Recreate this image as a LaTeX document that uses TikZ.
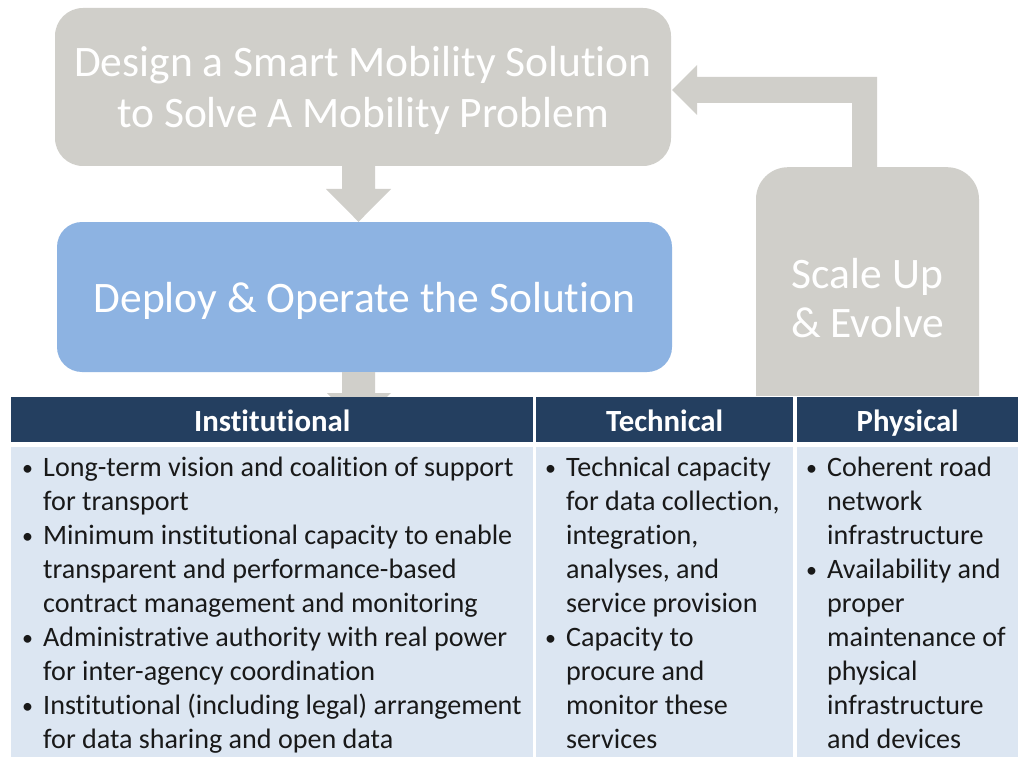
\documentclass[tikz,border=0pt]{standalone}
\usepackage{fontspec}
\setmainfont{Carlito}[RawFeature={-liga;-clig;-dlig;-calt;-rlig}]
\usetikzlibrary{calc}
\definecolor{boxgray}{RGB}{208,207,202}
\definecolor{boxblue}{RGB}{141,179,226}
\definecolor{navy}{RGB}{36,63,96}
\definecolor{cellblue}{RGB}{220,230,242}
\definecolor{bodytext}{RGB}{25,25,25}
\newcommand{\bul}{\llap{\makebox[21pt][l]{\fontsize{22}{22}\selectfont\raisebox{1pt}{•}}}}
\begin{document}
\begin{tikzpicture}[x=1pt,y=-1pt,
  stage/.style={inner sep=0pt, text=white, align=center, font=\fontsize{43.5}{51}\selectfont},
  hdr/.style={fill=navy, inner sep=0pt, text=white, text height=23pt, text depth=0pt, anchor=north west, minimum height=45pt, font=\bfseries\fontsize{30.8}{34}\selectfont},
  cell/.style={fill=cellblue, inner sep=0pt, anchor=north west, minimum height=310pt},
  bodytxt/.style={inner sep=0pt, anchor=base west, align=left, text=bodytext, font=\fontsize{28.1}{33.9}\selectfont},
  blockarrow/.style={fill=boxgray}]
\useasboundingbox (0,0) rectangle (1018,757);
\fill[white] (0,0) rectangle (1018,757);

% stages
\node[stage, fill=boxgray, rounded corners=28pt, minimum width=616pt, minimum height=158pt,
      text height=82pt, text depth=0pt] (design) at (363,87)
  {Design a Smart Mobility Solution\\to Solve A Mobility Problem};
\node[stage, fill=boxblue, rounded corners=25pt, minimum width=615pt, minimum height=150pt,
      text height=30pt, text depth=0pt] (deploy) at (364.5,297)
  {Deploy \& Operate the Solution};
\begin{scope}
  \clip (700,150) rectangle (1000,395);
  \node[fill=boxgray, rounded corners=32pt, inner sep=0pt, minimum width=223pt, minimum height=280pt, anchor=north] (scale) at (867.5,167) {};
\end{scope}
\node[stage, anchor=base, font=\fontsize{43.5}{49}\selectfont] (scaletext) at (867.5,337) {Scale Up\\\& Evolve};

% block arrows
\fill[blockarrow] ($(design.south)+(-21,0)$) -- (342,189) -- (326,189) -- ($(deploy.north)+(-6,0)$)
  -- (391,189) -- (375,189) -- ($(design.south)+(12,0)$) -- cycle;
\fill[blockarrow] ($(deploy.south)+(-22.5,0)$) -- (342,393) -- (327,393) -- (358.5,425)
  -- (391,393) -- (375,393) -- ($(deploy.south)+(10.5,0)$) -- cycle;
\fill[blockarrow] (scale.north -| 852,0) -- (852,103) -- (697,103) -- (697,115)
  -- ($(design.east)+(1,3)$) -- (697,65) -- (697,77) -- (877,77) -- (scale.north -| 877,0) -- cycle;

% table
\node[hdr, minimum width=522pt] (hinst) at (11,397) {Institutional};
\node[hdr, minimum width=257pt] (htech) at (536,397) {Technical};
\node[hdr, minimum width=221pt] (hphys) at (797,397) {Physical};
\node[cell, minimum width=522pt] (binst) at (11,447) {};
\node[cell, minimum width=257pt] (btech) at (536,447) {};
\node[cell, minimum width=221pt] (bphys) at (797,447) {};

\node[bodytxt] (tinst) at (43,748) {\bul Long-term vision and coalition of support\\
for transport\\
\bul Minimum institutional capacity to enable\\
transparent and performance-based\\
contract management and monitoring\\
\bul Administrative authority with real power\\
for inter-agency coordination\\
\bul Institutional (including legal) arrangement\\
for data sharing and open data};
\node[bodytxt] (ttech) at (566,748) {\bul Technical capacity\\
for data collection,\\
integration,\\
analyses, and\\
service provision\\
\bul Capacity to\\
procure and\\
monitor these\\
services};
\node[bodytxt] (tphys) at (827,748) {\bul Coherent road\\
network\\
infrastructure\\
\bul Availability and\\
proper\\
maintenance of\\
physical\\
infrastructure\\
and devices};
\end{tikzpicture}
\end{document}
